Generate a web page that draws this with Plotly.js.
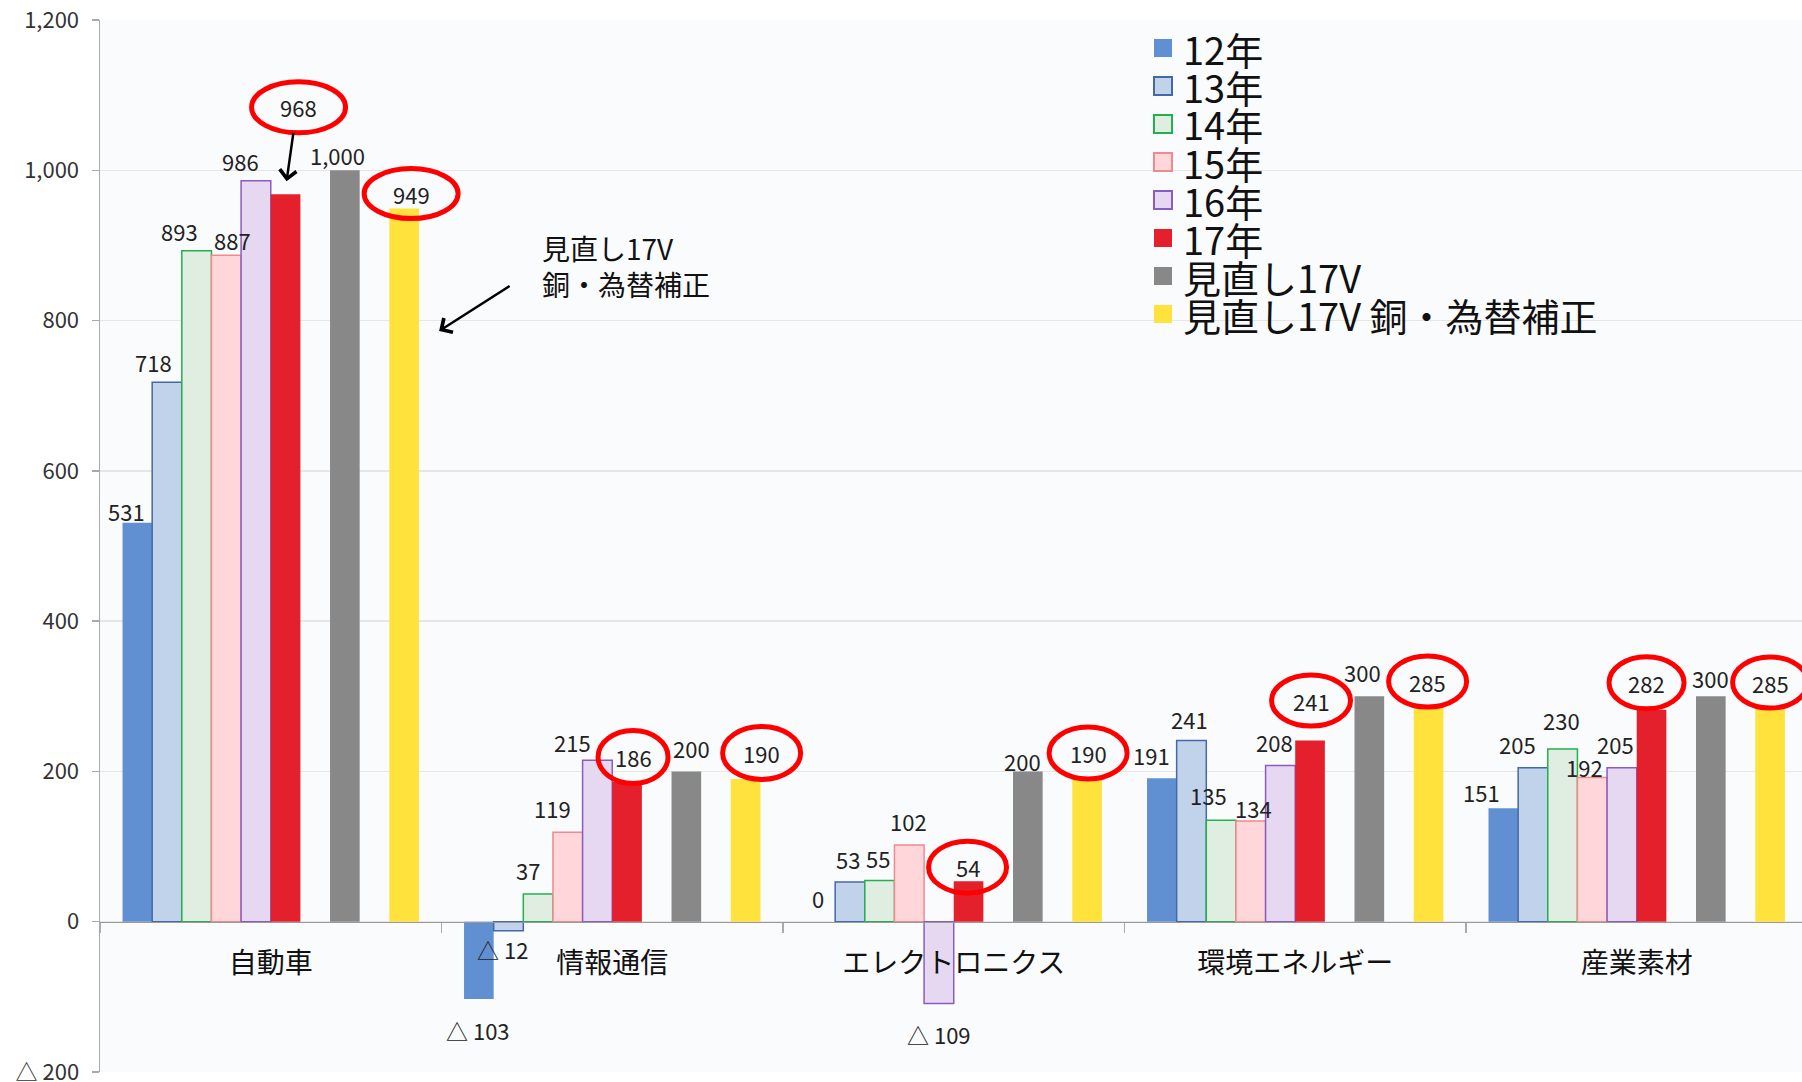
<!DOCTYPE html>
<html>
<head>
<meta charset="utf-8">
<script src="https://cdn.plot.ly/plotly-3.0.1.min.js"></script>
<style>
  html, body { margin: 0; padding: 0; background: #fff; overflow: hidden; }
  #chart { width: 1802px; height: 1082px; }
</style>
</head>
<body>
<div id="chart"></div>
<script>
// data
const categories = ['自動車', '情報通信', 'エレクトロニクス', '環境エネルギー', '産業素材'];
const seriesNames = ['12年', '13年', '14年', '15年', '16年', '17年', '見直し17V', '見直し17V 銅・為替補正'];
const y12 = [531, -103, 0, 191, 151];
const y13 = [718, -12, 53, 241, 205];
const y14 = [893, 37, 55, 135, 230];
const y15 = [887, 119, 102, 134, 192];
const y16 = [986, 215, -109, 208, 205];
const y17 = [968, 186, 54, 241, 282];
const yRev = [1000, 200, 200, 300, 300];
const yRevAdj = [949, 190, 190, 285, 285];
const allSeries = [y12, y13, y14, y15, y16, y17, yRev, yRevAdj];

const yMin = -200, yMax = 1200;

// styles
const styles = [
    {fill: '#6190d2', line: null},
    {fill: '#c0d3ea', line: '#4468a8'},
    {fill: '#dfeee0', line: '#25b04f'},
    {fill: '#ffd7da', line: '#f08a8e'},
    {fill: '#e6d8f0', line: '#8a5cc0'},
    {fill: '#e3202b', line: null},
    {fill: '#888888', line: null},
    {fill: '#ffe23c', line: null},
];
// 10 slots per category, two left empty (like the original)
const slotW = 0.0868, slotStart = -0.434;
const slots = [0, 1, 2, 3, 4, 5, 7, 9];

// label nudges in px: [dx, distance from bar end]
const labelNudge = {
    0: [[-11, 12], [-1, 31], [-2, 24], [-10, 23], [-22, 16]],
    1: [[-14, 20], [-6, 18], [-2, 23], [-2, 22], [-15, 24]],
    2: [[-17, 20], [-10, 24], [-2, 22], [-13, 25], [-1, 29]],
    3: [[6, 15], [-15, 24], [-1, 24], [3, 13], [-8, 10]],
    4: [[-15, 20], [-25, 18], [0, 30], [-6, 23], [-6, 24]],
    6: [[-7, 15], [5, 23], [-5, 10], [-7, 24], [0, 18]],
};
// circled labels: [dx, dy, w, h]
const circleNudge = {
    5: [[13, 87, 94, 51], [6, 25, 70, 53], [-1, 14, 78, 52], [1, 40, 79, 51], [-5, 27, 75, 52]],
    7: [[7, 15, 94, 50], [16, 26, 78, 53], [1, 26, 78, 52], [-1, 26, 78, 51], [0, 25, 75, 51]],
};

const FONT = '"Noto Sans CJK JP", "Noto Sans", sans-serif';

function fmt(v) {
    if (v < 0) return '△ ' + Math.abs(v).toLocaleString('en-US');
    return v.toLocaleString('en-US');
}

const traces = allSeries.map((vals, i) => ({
    type: 'bar',
    name: seriesNames[i],
    x: categories,
    y: vals,
    width: slotW,
    offset: slotStart + slots[i] * slotW,
    marker: {
        color: styles[i].fill,
        line: {color: styles[i].line || styles[i].fill, width: styles[i].line ? 1.5 : 0},
    },
    showlegend: false,
    hoverinfo: 'x+y+name',
}));

const annotations = [];
const shapes = [];

allSeries.forEach((vals, i) => {
    vals.forEach((v, j) => {
        const cx = j + slotStart + (slots[i] + 0.5) * slotW;
        if (circleNudge[i]) {
            const [dx, dy, w, h] = circleNudge[i][j];
            annotations.push({
                x: cx, y: v, xref: 'x', yref: 'y', text: fmt(v), showarrow: false,
                xshift: dx, yshift: dy, xanchor: 'center', yanchor: 'middle',
                font: {family: FONT, size: 22, color: '#222'},
            });
            shapes.push({
                type: 'circle', xref: 'x', yref: 'y', xsizemode: 'pixel', ysizemode: 'pixel',
                xanchor: cx, yanchor: v,
                x0: dx - w / 2, x1: dx + w / 2, y0: dy - h / 2, y1: dy + h / 2,
                line: {color: '#ff0000', width: 5},
            });
        } else {
            const [dx, d] = labelNudge[i][j];
            annotations.push({
                x: cx, y: v, xref: 'x', yref: 'y', text: fmt(v), showarrow: false,
                xshift: dx, yshift: v < 0 ? -d : d, xanchor: 'center', yanchor: 'middle',
                font: {family: FONT, size: 22, color: '#222'},
            });
        }
    });
});

// arrow from the 968 circle down to the 17年 bar
annotations.push({
    x: 0 + slotStart + (slots[5] + 0.5) * slotW, y: y17[0], xref: 'x', yref: 'y',
    text: '', showarrow: true, xshift: 1, yshift: 13, ax: 7, ay: -50,
    arrowhead: 4, arrowsize: 1.3, arrowwidth: 2.5, arrowcolor: '#000',
});
// note and arrow pointing at the corrected bar
annotations.push({
    x: 0 + slotStart + (slots[7] + 0.5) * slotW, y: 786, xref: 'x', yref: 'y',
    text: '', showarrow: true, xshift: 35, ax: 72, ay: -46,
    arrowhead: 4, arrowsize: 1.3, arrowwidth: 2.5, arrowcolor: '#000',
});
annotations.push({
    x: (540 - 100) / 1702, y: (1072 - 266) / 1052, xref: 'paper', yref: 'paper',
    text: '見直し17V<br>銅・為替補正', showarrow: false, align: 'left',
    xanchor: 'left', yanchor: 'middle',
    font: {family: FONT, size: 28, color: '#111'},
});

// legend, drawn by hand so the entries sit as tight as the original
seriesNames.forEach((name, i) => {
    const py = (1072 - (48 + i * 38)) / 1052;
    annotations.push({
        x: (1181 - 100) / 1702, y: py, xref: 'paper', yref: 'paper',
        text: name, showarrow: false, xanchor: 'left', yanchor: 'middle',
        font: {family: FONT, size: 38, color: '#111'},
    });
    shapes.push({
        type: 'rect', xref: 'paper', yref: 'paper',
        x0: (1154 - 100) / 1702, x1: (1172 - 100) / 1702,
        y0: py - 9 / 1052, y1: py + 9 / 1052,
        fillcolor: styles[i].fill,
        line: {color: styles[i].line || styles[i].fill, width: styles[i].line ? 2 : 0},
    });
});

const tickVals = [];
for (let t = yMin; t <= yMax; t += 200) tickVals.push(t);

const layout = {
    width: 1802,
    height: 1082,
    margin: {l: 100, r: 0, t: 20, b: 10},
    paper_bgcolor: '#ffffff',
    plot_bgcolor: '#fafbfd',
    barmode: 'overlay',
    showlegend: false,
    font: {family: FONT, color: '#222'},
    xaxis: {
        type: 'category',
        range: [-0.5, 4.484],
        anchor: 'free',
        position: (0 - yMin) / (yMax - yMin),
        showline: true, linecolor: '#999', linewidth: 1.5,
        ticks: 'outside', tickson: 'boundaries', ticklen: 10, tickcolor: '#aaa', tickwidth: 1.5,
        showgrid: false,
        tickfont: {family: FONT, size: 28, color: '#111'},
        ticklabelstandoff: 16,
    },
    yaxis: {
        range: [yMin, yMax],
        tickvals: tickVals,
        ticktext: tickVals.map(fmt),
        showline: true, linecolor: '#aaa', linewidth: 1.5,
        ticks: 'outside', ticklen: 7, tickcolor: '#aaa', tickwidth: 1.5,
        showgrid: true, gridcolor: '#e6e6e6', gridwidth: 1.5,
        zeroline: false,
        tickfont: {family: FONT, size: 22, color: '#333'},
        ticklabelstandoff: 8,
        ticklabeloverflow: 'allow',
    },
    annotations: annotations,
    shapes: shapes,
};

Plotly.newPlot('chart', traces, layout, {displayModeBar: false, staticPlot: true});
</script>
</body>
</html>
